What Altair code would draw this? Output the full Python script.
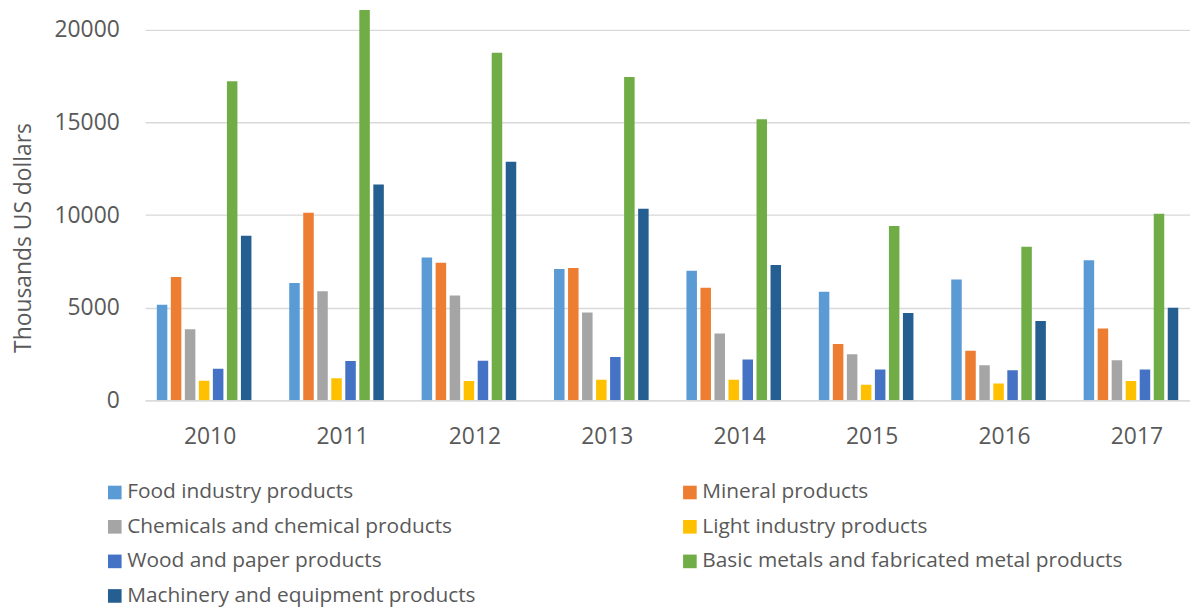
import altair as alt
import pandas as pd

years = ["2010", "2011", "2012", "2013", "2014", "2015", "2016", "2017"]
series = [
    "Food industry products",
    "Mineral products",
    "Chemicals and chemical products",
    "Light industry products",
    "Wood and paper products",
    "Basic metals and fabricated metal products",
    "Machinery and equipment products",
]
colors = ["#5B9BD5", "#ED7D31", "#A5A5A5", "#FFC000", "#4472C4", "#70AD47", "#255E91"]

food = [5160, 6340, 7710, 7090, 7000, 5860, 6520, 7570]
mineral = [6660, 10130, 7430, 7150, 6080, 3040, 2680, 3880]
chemicals = [3840, 5890, 5660, 4740, 3610, 2490, 1900, 2160]
light = [1060, 1200, 1040, 1110, 1110, 840, 910, 1040]
wood = [1710, 2130, 2140, 2340, 2200, 1660, 1630, 1660]
basic = [17220, 22000, 18770, 17460, 15180, 9410, 8290, 10070]
machinery = [8890, 11650, 12880, 10340, 7310, 4710, 4290, 5000]

values = [food, mineral, chemicals, light, wood, basic, machinery]
rows = []
for s, vals in zip(series, values):
    for y, v in zip(years, vals):
        rows.append({"year": y, "series": s, "value": v})
df = pd.DataFrame(rows)

# legend fills column by column; order entries so it reads row by row
legend_order = [0, 2, 4, 6, 1, 3, 5]
legend_domain = [series[i] for i in legend_order]
legend_range = [colors[i] for i in legend_order]

FONT = "Open Sans"
GREY = "#595959"

chart = alt.Chart(df).mark_bar(clip=True).encode(
    x=alt.X(
        "year:N",
        sort=years,
        scale=alt.Scale(paddingInner=0.26, paddingOuter=0.076, range=[0, 1052], round=False),
        axis=alt.Axis(
            title=None, labelFontSize=23, labelColor=GREY, labelFont=FONT,
            labelPadding=25, labelOffset=6, labelAngle=0,
            domainColor="#d9d9d9", domainWidth=1.3, ticks=False,
        ),
    ),
    xOffset=alt.XOffset(
        "series:N", sort=series,
        scale=alt.Scale(paddingInner=0.25, paddingOuter=0.12, round=False),
    ),
    y=alt.Y(
        "value:Q",
        scale=alt.Scale(domain=[0, 21072], nice=False),
        axis=alt.Axis(
            values=[0, 5000, 10000, 15000, 20000], format="d",
            title="Thousands US dollars",
            grid=True, gridColor="#d9d9d9", gridWidth=1.3,
            domain=False, ticks=False,
            labelPadding=26, labelFontSize=23, labelColor=GREY, labelFont=FONT,
            titleFontSize=23, titleFontWeight="normal", titleColor=GREY, titleFont=FONT,
            titleX=-122, titleY=229, titleBaseline="middle",
        ),
    ),
    color=alt.Color(
        "series:N",
        scale=alt.Scale(domain=legend_domain, range=legend_range),
        legend=alt.Legend(
            title=None, orient="none", legendX=-41, legendY=475,
            columns=2, symbolType="square", symbolSize=188, symbolStrokeWidth=0,
            labelFontSize=21, labelColor=GREY, labelFont=FONT, labelOffset=2,
            rowPadding=12.8, columnPadding=205, padding=0, labelLimit=600,
        ),
    ),
).properties(
    width=1052, height=393,
    padding={"left": 4, "top": 0, "right": 0, "bottom": 0},
).configure_view(stroke=None)

chart.save("out.html", embed_options={"renderer": "svg", "actions": False})
